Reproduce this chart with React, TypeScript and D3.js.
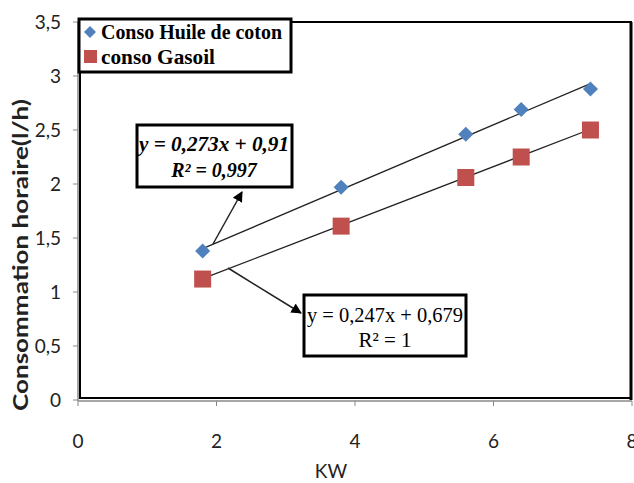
import React from "react";
import * as d3 from "d3";

const kw = [1.8, 3.8, 5.6, 6.4, 7.4];
const huile = [1.38, 1.97, 2.46, 2.69, 2.88];
const gasoil = [1.12, 1.61, 2.06, 2.25, 2.5];
const xTicks = [0, 2, 4, 6, 8];
const yTicks = [0, 0.5, 1, 1.5, 2, 2.5, 3, 3.5];
const trendHuile = { a: 0.273, b: 0.91 };
const trendGasoil = { a: 0.247, b: 0.679 };
const seriesNames = ["Conso Huile de coton", "conso Gasoil"];
const eqHuile = ["y = 0,273x + 0,91", "R² = 0,997"];
const eqGasoil = ["y = 0,247x + 0,679", "R² = 1"];

const W = 634, H = 483;
const x = d3.scaleLinear().domain([0, 8]).range([78, 632]);
const y = d3.scaleLinear().domain([0, 3.5]).range([400, 22]);
const BLUE = "#4F81BD";
const RED = "#C0504D";
const fmt = (v: number) => String(v).replace(".", ",");

export default function App() {
  const tl = (t: { a: number; b: number }) =>
    d3.line<number>().x((d) => x(d)).y((d) => y(t.a * d + t.b))([1.8, 7.4]) || "";
  const axisFont = "Lato, 'Open Sans', sans-serif";
  const serif = "'Liberation Serif', 'DejaVu Serif', serif";
  const diamond = d3.symbol().type(d3.symbolDiamond2).size(145)() || "";
  return (
    <svg width={W} height={H} style={{ position: "absolute", left: 0, top: 0 }}>
      <defs>
        <marker id="ah" viewBox="0 0 10 10" refX="9" refY="5" markerWidth="7" markerHeight="7" orient="auto">
          <path d="M0,0 L10,5 L0,10 z" fill="#000" />
        </marker>
      </defs>
      <rect width={W} height={H} fill="#fff" />
      {/* plot area border */}
      <rect x={x(0) + 2} y={y(3.5)} width={x(8) - x(0) - 3} height={y(0) - y(3.5) - 2} fill="none" stroke="#000" strokeWidth={2} />
      <line x1={x(8) - 1} x2={x(8) - 1} y1={y(3.5)} y2={y(0)} stroke="#000" strokeWidth={3} />
      {/* axes */}
      <line x1={x(0)} x2={x(0)} y1={y(3.5)} y2={y(0) + 1} stroke="#888" strokeWidth={1.5} />
      <line x1={x(0)} x2={x(8)} y1={y(0) + 1} y2={y(0) + 1} stroke="#888" strokeWidth={1.5} />
      {yTicks.map((t) => (
        <g key={"y" + t}>
          <line x1={x(0) - 5} x2={x(0)} y1={y(t)} y2={y(t)} stroke="#888" />
          <text x={61} y={y(t) + 7} textAnchor="end" fontFamily={axisFont} fontSize={19} fill="#222">{fmt(t)}</text>
        </g>
      ))}
      {xTicks.map((t) => (
        <g key={"x" + t}>
          <line x1={x(t)} x2={x(t)} y1={y(0) + 1} y2={y(0) + 6} stroke="#888" />
          <text x={x(t)} y={448} textAnchor="middle" fontFamily={axisFont} fontSize={19} fill="#222">{fmt(t)}</text>
        </g>
      ))}
      <text x={331} y={478} textAnchor="middle" fontFamily={axisFont} fontSize={19} fill="#222">KW</text>
      <text transform={`translate(28,255) rotate(-90)`} textAnchor="middle" fontFamily={axisFont} fontWeight="bold" fontSize={20} fill="#222" textLength={312} lengthAdjust="spacingAndGlyphs">Consommation horaire(l/h)</text>
      {/* trendlines */}
      <path d={tl(trendHuile)} stroke="#222" strokeWidth={1.3} fill="none" />
      <path d={tl(trendGasoil)} stroke="#222" strokeWidth={1.3} fill="none" />
      {/* points */}
      {kw.map((k, i) => (
        <path key={"h" + i} d={diamond} transform={`translate(${x(k)},${y(huile[i])})`} fill={BLUE} />
      ))}
      {kw.map((k, i) => (
        <rect key={"g" + i} x={x(k) - 8.5} y={y(gasoil[i]) - 8.5} width={17} height={17} fill={RED} />
      ))}
      {/* legend */}
      <rect x={79} y={19} width={212} height={53} fill="#fff" stroke="#000" strokeWidth={3} />
      <path d={diamond} transform="translate(90,32) scale(0.8)" fill={BLUE} />
      <rect x={84} y={50} width={13} height={13} fill={RED} />
      <text x={101} y={39} fontFamily={serif} fontWeight="bold" fontSize={20} fill="#000" textLength={181} lengthAdjust="spacingAndGlyphs">{seriesNames[0]}</text>
      <text x={101} y={64} fontFamily={serif} fontWeight="bold" fontSize={20} fill="#000" textLength={114} lengthAdjust="spacingAndGlyphs">{seriesNames[1]}</text>
      {/* arrows */}
      <line x1={213} y1={244} x2={242} y2={192} stroke="#222" strokeWidth={1.5} markerEnd="url(#ah)" />
      <line x1={228} y1={268} x2={301} y2={313} stroke="#222" strokeWidth={1.5} markerEnd="url(#ah)" />
      {/* equation boxes */}
      <rect x={137} y={125} width={155} height={62} fill="#fff" stroke="#000" strokeWidth={3} />
      <text x={214} y={151} textAnchor="middle" fontFamily={serif} fontWeight="bold" fontStyle="italic" fontSize={20} textLength={150} lengthAdjust="spacingAndGlyphs">{eqHuile[0]}</text>
      <text x={214} y={177} textAnchor="middle" fontFamily={serif} fontWeight="bold" fontStyle="italic" fontSize={20}>{eqHuile[1]}</text>
      <rect x={304} y={295} width={162} height={61} fill="#fff" stroke="#000" strokeWidth={3} />
      <text x={385} y={322} textAnchor="middle" fontFamily={serif} fontSize={21} textLength={156} lengthAdjust="spacingAndGlyphs">{eqGasoil[0]}</text>
      <text x={385} y={347} textAnchor="middle" fontFamily={serif} fontSize={21}>{eqGasoil[1]}</text>
    </svg>
  );
}
